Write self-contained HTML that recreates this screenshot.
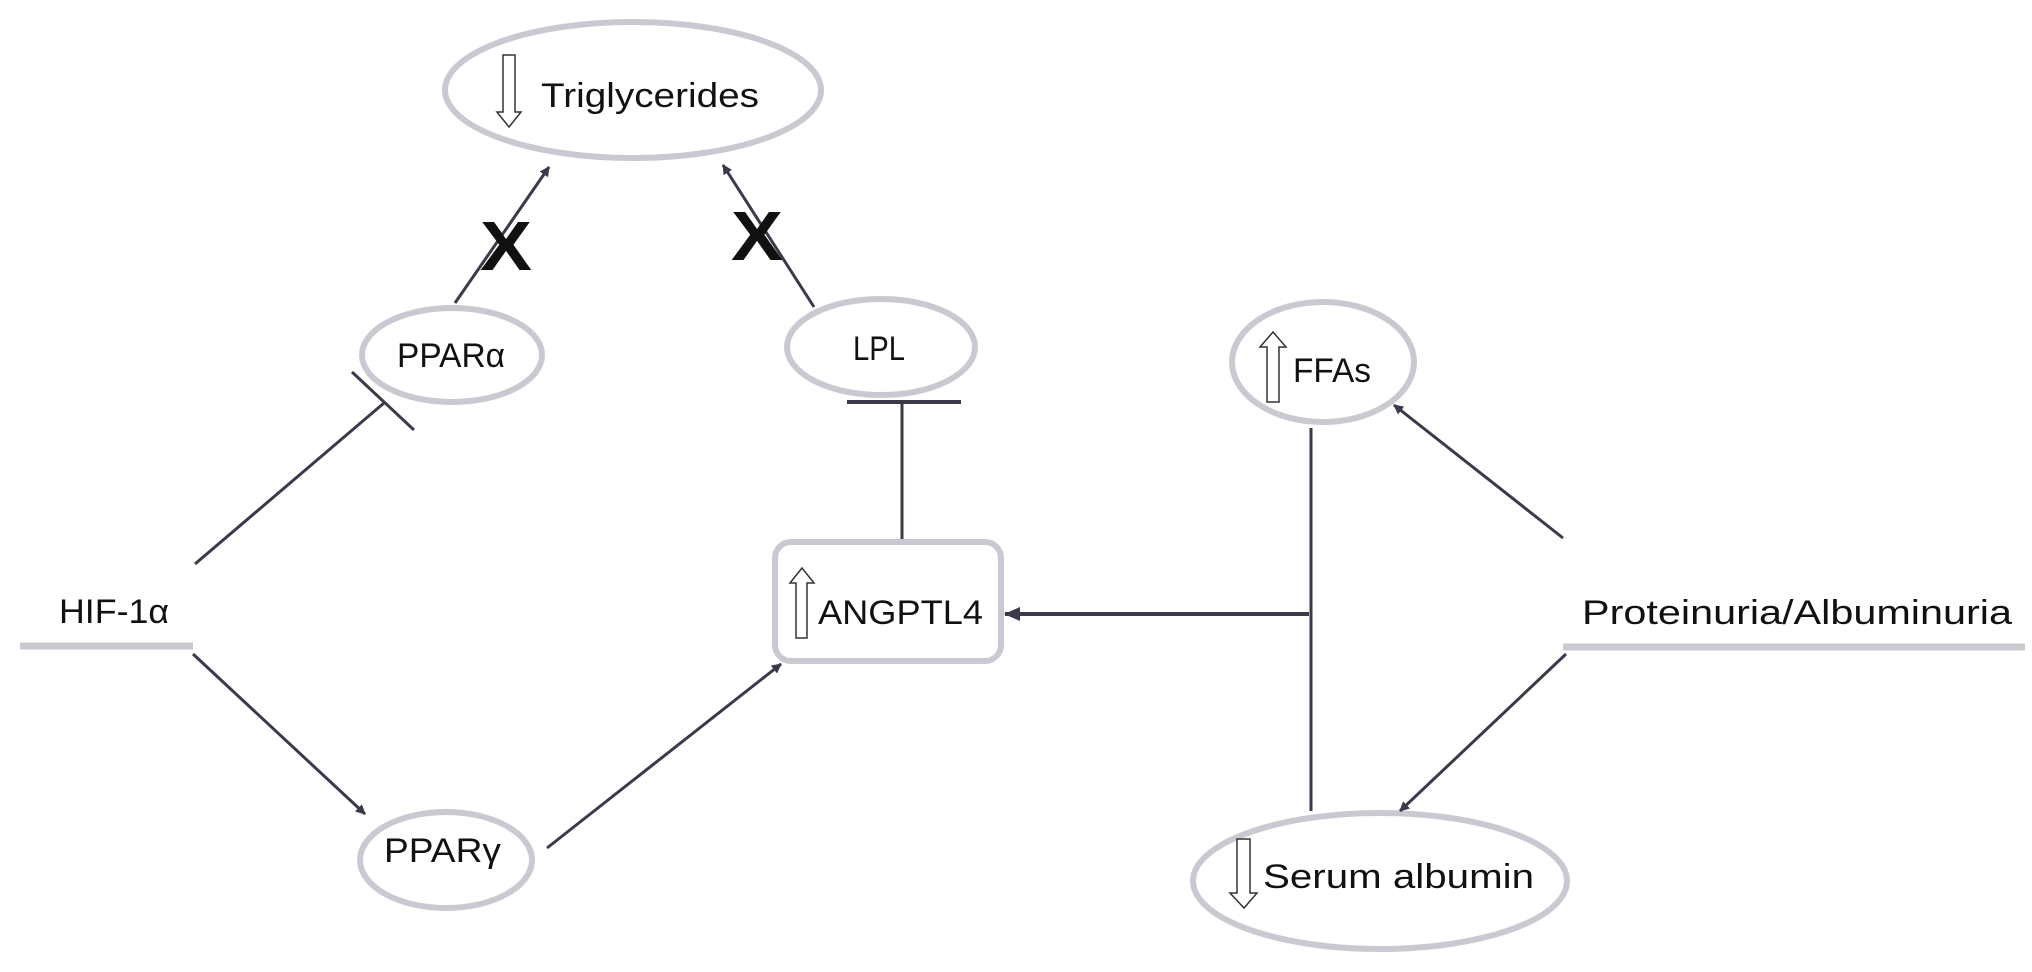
<!DOCTYPE html>
<html><head><meta charset="utf-8"><style>
html,body{margin:0;padding:0;background:#fff;}
svg{display:block;}
text{font-family:"Liberation Sans",sans-serif;fill:#111;}
</style></head><body>
<svg width="2032" height="972" viewBox="0 0 2032 972" xmlns="http://www.w3.org/2000/svg">
<defs>
<marker id="ah" markerWidth="10" markerHeight="10" refX="9" refY="5" orient="auto" markerUnits="userSpaceOnUse">
<path d="M0,0 L10,5 L0,10 Z" fill="#3a3a4a"/>
</marker>
<marker id="ah2" markerWidth="16" markerHeight="14" refX="15" refY="7" orient="auto" markerUnits="userSpaceOnUse">
<path d="M0,0 L16,7 L0,14 Z" fill="#3a3a4a"/>
</marker>
</defs>
<g fill="none" stroke="#c9c9d1" stroke-width="6">
<ellipse cx="633" cy="90" rx="188" ry="68"/>
<ellipse cx="452" cy="355" rx="90" ry="47"/>
<ellipse cx="881" cy="347" rx="94" ry="48"/>
<ellipse cx="1323" cy="362" rx="91" ry="60"/>
<ellipse cx="446" cy="860" rx="86" ry="48"/>
<ellipse cx="1380" cy="881" rx="187" ry="68"/>
<rect x="775" y="542" width="226" height="119" rx="16"/>
</g>
<g stroke="#c9c9d1" stroke-width="7">
<line x1="20" y1="646" x2="193" y2="646"/>
<line x1="1563" y1="647" x2="2025" y2="647"/>
</g>
<g stroke="#3a3a4a" stroke-width="3" fill="none">
<line x1="455" y1="303" x2="549" y2="167" marker-end="url(#ah)"/>
<line x1="814" y1="307" x2="723" y2="165" marker-end="url(#ah)"/>
<line x1="195" y1="564" x2="384" y2="403"/>
<line x1="352" y1="372" x2="414" y2="430"/>
<line x1="847" y1="402" x2="961" y2="402" stroke-width="4"/>
<line x1="902" y1="402" x2="902" y2="539"/>
<line x1="193" y1="654" x2="365" y2="814" marker-end="url(#ah)"/>
<line x1="547" y1="848" x2="781" y2="664" marker-end="url(#ah)"/>
<line x1="1311" y1="428" x2="1311" y2="811"/>
<line x1="1309" y1="614" x2="1005" y2="614" stroke-width="4" marker-end="url(#ah2)"/>
<line x1="1563" y1="538" x2="1394" y2="405" marker-end="url(#ah)"/>
<line x1="1566" y1="654" x2="1400" y2="811" marker-end="url(#ah)"/>
</g>
<g fill="#fff" stroke="#333" stroke-width="1.5">
<path d="M503,55 L515,55 L515,112 L521,112 L509,127 L497,112 L503,112 Z"/>
<path d="M1267,402 L1279,402 L1279,347 L1286,347 L1273,332 L1260,347 L1267,347 Z"/>
<path d="M796,638 L807,638 L807,583 L814,583 L802,568 L790,583 L796,583 Z"/>
<path d="M1237,839 L1250,839 L1250,893 L1257,893 L1244,908 L1230,893 L1237,893 Z"/>
</g>
<g font-weight="bold" font-size="70">
<text x="480" y="270" textLength="52" lengthAdjust="spacingAndGlyphs">X</text>
<text x="731" y="260" textLength="52" lengthAdjust="spacingAndGlyphs">X</text>
</g>
<g font-size="34">
<text x="541" y="107" textLength="218" lengthAdjust="spacingAndGlyphs">Triglycerides</text>
<text x="397" y="367" textLength="108" lengthAdjust="spacingAndGlyphs">PPARα</text>
<text x="853" y="360" textLength="52" lengthAdjust="spacingAndGlyphs">LPL</text>
<text x="1293" y="382" textLength="78" lengthAdjust="spacingAndGlyphs">FFAs</text>
<text x="59" y="623" textLength="110" lengthAdjust="spacingAndGlyphs">HIF-1α</text>
<text x="818" y="624" textLength="165" lengthAdjust="spacingAndGlyphs">ANGPTL4</text>
<text x="1582" y="624" textLength="430" lengthAdjust="spacingAndGlyphs">Proteinuria/Albuminuria</text>
<text x="384" y="862" textLength="117" lengthAdjust="spacingAndGlyphs">PPARγ</text>
<text x="1263" y="888" textLength="271" lengthAdjust="spacingAndGlyphs">Serum albumin</text>
</g>
</svg>
</body></html>
